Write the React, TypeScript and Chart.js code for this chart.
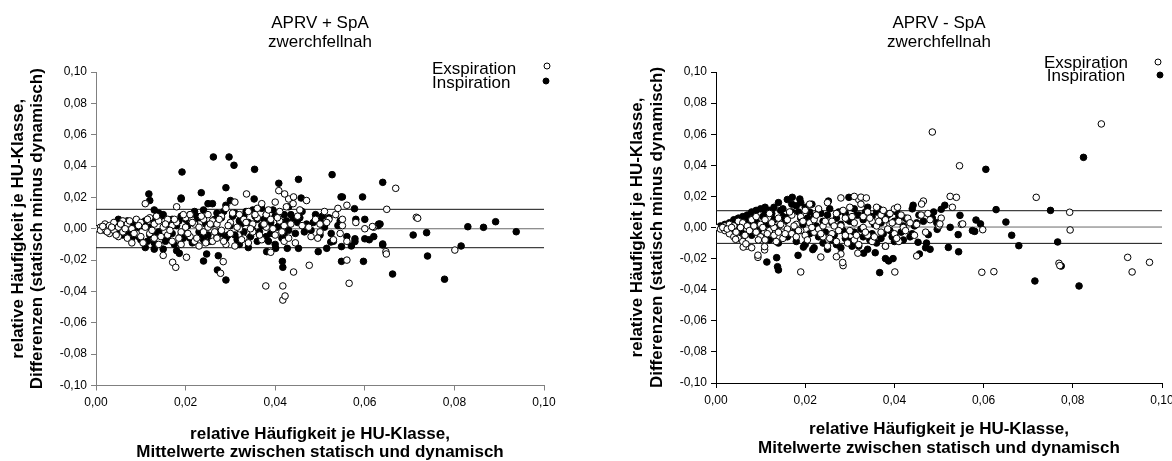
import React, { useEffect, useRef } from 'react';
import { Chart, registerables } from 'chart.js';

Chart.register(...registerables);

const FONT = '"Liberation Sans", Arial, Helvetica, sans-serif';

const xTickValues = [0, 0.02, 0.04, 0.06, 0.08, 0.1];
const xTickLabels = ['0,00', '0,02', '0,04', '0,06', '0,08', '0,10'];
const yTickValues = [-0.1, -0.08, -0.06, -0.04, -0.02, 0, 0.02, 0.04, 0.06, 0.08, 0.1];
const yTickLabels = ['-0,10', '-0,08', '-0,06', '-0,04', '-0,02', '0,00', '0,02', '0,04', '0,06', '0,08', '0,10'];

const leftTitle = ['APRV + SpA', 'zwerchfellnah'];
const rightTitle = ['APRV - SpA', 'zwerchfellnah'];
const yAxisTitle = ['relative Häufigkeit je HU-Klasse,', 'Differenzen (statisch minus dynamisch)'];
const leftXAxisTitle = ['relative Häufigkeit je HU-Klasse,', 'Mittelwerte zwischen statisch und dynamisch'];
const rightXAxisTitle = ['relative Häufigkeit je HU-Klasse,', 'Mitelwerte zwischen statisch und dynamisch'];
const seriesNames = ['Exspiration', 'Inspiration'];

// mean difference and limits of agreement
const leftLimits = [0.0124, 0, -0.0121];
const rightLimits = [0.0108, 0.0003, -0.0102];

// [mean, difference]
const leftExspiration: number[][] = [
  [0.000, 0.000], [0.001, 0.001], [0.001, -0.001], [0.002, 0.000], [0.002, 0.003], [0.003, -0.003], [0.003, 0.002],
  [0.004, -0.001], [0.004, 0.004], [0.005, -0.005], [0.005, 0.001], [0.006, 0.005], [0.006, -0.002], [0.007, -0.006],
  [0.007, 0.003], [0.008, 0.000], [0.008, -0.009], [0.009, 0.006], [0.009, -0.003], [0.010, 0.004], [0.010, -0.005],
  [0.011, 0.016], [0.011, 0.001], [0.012, -0.003], [0.012, 0.007], [0.013, -0.006], [0.013, 0.003], [0.014, 0.005],
  [0.014, -0.010], [0.015, -0.017], [0.015, 0.001], [0.016, 0.006], [0.016, -0.004], [0.017, 0.002], [0.017, -0.008],
  [0.018, 0.014], [0.018, 0.004], [0.019, -0.002], [0.019, -0.010], [0.020, 0.007], [0.020, 0.001], [0.021, -0.005],
  [0.021, 0.009], [0.022, 0.003], [0.022, -0.008], [0.023, 0.001], [0.023, -0.011], [0.024, 0.006], [0.024, -0.002],
  [0.025, 0.009], [0.025, 0.001], [0.026, -0.008], [0.026, 0.005], [0.027, 0.003], [0.027, -0.006], [0.028, 0.008],
  [0.028, -0.001], [0.029, 0.013], [0.029, -0.010], [0.030, 0.004], [0.030, -0.003], [0.031, 0.017], [0.031, -0.011],
  [0.032, 0.009], [0.032, 0.000], [0.033, -0.006], [0.033, 0.006], [0.034, 0.011], [0.034, -0.009], [0.035, 0.003],
  [0.035, -0.002], [0.036, 0.013], [0.036, 0.007], [0.037, 0.016], [0.037, -0.007], [0.038, 0.001], [0.038, 0.009],
  [0.039, 0.006], [0.039, -0.015], [0.040, 0.017], [0.040, -0.004], [0.041, 0.005], [0.041, 0.011], [0.042, 0.002],
  [0.042, -0.008], [0.043, 0.019], [0.043, -0.006], [0.044, 0.016], [0.045, 0.008], [0.046, 0.002], [0.047, 0.018],
  [0.048, -0.005], [0.049, 0.006], [0.050, 0.003], [0.050, -0.002], [0.051, 0.011], [0.052, 0.006], [0.053, -0.007],
  [0.054, 0.013], [0.055, 0.002], [0.055, 0.006], [0.056, 0.015], [0.056, -0.008], [0.058, 0.004], [0.060, 0.000],
  [0.062, 0.001],
  [0.0015, 0.0015], [0.0025, -0.002], [0.0035, 0.001], [0.0045, -0.004], [0.0055, 0.003], [0.0065, 0.000],
  [0.0075, 0.005], [0.0085, -0.003], [0.0095, 0.002], [0.0105, -0.009], [0.0115, 0.006], [0.0125, -0.001],
  [0.0135, 0.008], [0.0145, -0.005], [0.0155, 0.003], [0.0165, -0.001], [0.0175, 0.006], [0.0185, -0.006],
  [0.0195, 0.009], [0.0205, -0.003], [0.0215, 0.004], [0.0225, -0.006], [0.0235, 0.008], [0.0245, -0.009],
  [0.0255, 0.003], [0.0265, -0.002], [0.0275, 0.006], [0.0285, -0.008], [0.0295, 0.002], [0.0305, 0.010],
  [0.0315, 0.001], [0.0325, -0.007], [0.0335, 0.004], [0.0345, 0.000], [0.0355, 0.009], [0.0365, -0.004],
  [0.0375, 0.003], [0.0385, 0.012], [0.0395, 0.000], [0.0405, 0.007], [0.0415, -0.002], [0.0425, 0.014],
  [0.0435, 0.003], [0.0445, -0.009], [0.0455, 0.012], [0.0475, 0.001], [0.0495, -0.006], [0.0515, 0.004],
  [0.0535, 0.009], [0.0545, -0.003],
  [0.0408, 0.0243], [0.0421, 0.0222], [0.0669, 0.0258], [0.0336, 0.0222], [0.0441, 0.0203], [0.0171, -0.0214],
  [0.0178, -0.0246], [0.0202, -0.0182], [0.0278, -0.0284], [0.0284, -0.021], [0.0379, -0.0365], [0.0417, -0.0365],
  [0.0417, -0.0455], [0.0422, -0.0429], [0.0441, -0.0276], [0.0476, -0.0233], [0.0565, -0.0348], [0.056, -0.020],
  [0.0647, -0.0146], [0.0648, -0.0161], [0.0649, 0.0124], [0.0617, 0.0014], [0.0715, 0.0073], [0.0718, 0.0067],
  [0.0801, -0.0136],
];

const leftInspiration: number[][] = [
  [0.001, 0.0005], [0.002, -0.001], [0.002, 0.002], [0.003, 0.001], [0.003, -0.002], [0.004, 0.003], [0.004, -0.001],
  [0.005, 0.006], [0.005, 0.002], [0.005, -0.003], [0.006, 0.004], [0.006, -0.004], [0.007, 0.001], [0.007, 0.005],
  [0.007, -0.002], [0.008, 0.003], [0.008, -0.006], [0.009, 0.000], [0.009, 0.004], [0.010, -0.007], [0.010, 0.002],
  [0.011, -0.012], [0.011, 0.005], [0.012, 0.018], [0.012, -0.004], [0.012, 0.001], [0.013, -0.013], [0.013, 0.012],
  [0.013, -0.009], [0.014, 0.010], [0.014, -0.002], [0.015, 0.009], [0.015, -0.013], [0.016, 0.004], [0.016, -0.006],
  [0.017, 0.006], [0.017, -0.003], [0.018, -0.014], [0.018, 0.002], [0.019, 0.019], [0.019, -0.004], [0.019, 0.008],
  [0.020, -0.003], [0.020, 0.006], [0.021, 0.009], [0.021, -0.006], [0.022, 0.004], [0.022, 0.011], [0.023, -0.002],
  [0.023, 0.007], [0.024, -0.007], [0.024, 0.012], [0.025, 0.016], [0.025, -0.004], [0.026, 0.016], [0.026, 0.003],
  [0.027, -0.005], [0.027, 0.010], [0.028, 0.007], [0.028, -0.003], [0.029, 0.015], [0.029, -0.006], [0.030, 0.018],
  [0.030, 0.002], [0.031, 0.010], [0.031, -0.004], [0.032, 0.005], [0.032, -0.010], [0.033, 0.008], [0.033, -0.002],
  [0.034, -0.012], [0.034, 0.004], [0.035, 0.012], [0.035, -0.001], [0.036, 0.006], [0.036, -0.008], [0.037, 0.013],
  [0.037, 0.002], [0.038, -0.005], [0.038, 0.009], [0.039, 0.004], [0.039, -0.003], [0.040, 0.008], [0.040, -0.010],
  [0.041, 0.003], [0.042, -0.004], [0.042, 0.009], [0.043, 0.014], [0.043, -0.001], [0.044, 0.006], [0.045, 0.004],
  [0.046, 0.011], [0.047, 0.003], [0.048, -0.001], [0.049, 0.009], [0.050, 0.005], [0.050, -0.004], [0.051, 0.001],
  [0.052, 0.007], [0.053, -0.008], [0.054, 0.002], [0.056, -0.005], [0.057, -0.011], [0.058, 0.006], [0.061, -0.007],
  [0.062, -0.005], [0.063, 0.002],
  [0.0015, -0.0005], [0.0025, 0.0015], [0.0035, -0.001], [0.0045, 0.002], [0.0055, -0.002], [0.0065, 0.003],
  [0.0075, -0.004], [0.0085, 0.002], [0.0095, -0.005], [0.0105, 0.004], [0.0115, -0.008], [0.0125, 0.006],
  [0.0135, -0.003], [0.0145, 0.008], [0.0155, -0.008], [0.0165, 0.002], [0.0175, -0.010], [0.0185, 0.005],
  [0.0195, -0.006], [0.0205, 0.002], [0.0215, -0.009], [0.0225, 0.008], [0.0235, -0.004], [0.0245, 0.003],
  [0.0255, -0.008], [0.0265, 0.006], [0.0275, -0.002], [0.0285, 0.011], [0.0295, -0.004], [0.0305, 0.008],
  [0.0315, -0.007], [0.0325, 0.003], [0.0335, 0.011], [0.0345, -0.005], [0.0355, 0.008], [0.0365, -0.002],
  [0.0375, 0.006], [0.0385, -0.008], [0.0395, 0.012], [0.0405, 0.001], [0.0415, -0.006], [0.0425, 0.005],
  [0.0435, 0.009], [0.0445, -0.003], [0.0455, 0.007], [0.0465, -0.002], [0.0485, 0.004], [0.0505, 0.008],
  [0.0525, -0.003], [0.0545, 0.005],
  [0.0118, 0.0222], [0.0192, 0.0362], [0.0235, 0.023], [0.0262, 0.0458], [0.0297, 0.0458], [0.0308, 0.0405],
  [0.029, 0.0262], [0.0354, 0.0379], [0.0408, 0.029], [0.0452, 0.0315], [0.0527, 0.0345], [0.064, 0.0296],
  [0.0547, 0.0203], [0.055, 0.0203], [0.0595, 0.0203], [0.0458, 0.0196], [0.019, 0.0196], [0.0353, 0.019],
  [0.0186, -0.0157], [0.024, -0.0206], [0.0247, -0.0161], [0.0271, -0.0263], [0.029, -0.0327], [0.0273, -0.0172],
  [0.0416, -0.0208], [0.0417, -0.0246], [0.0381, -0.0146], [0.0401, -0.0125], [0.0427, -0.0125], [0.0452, -0.0125],
  [0.0496, -0.0146], [0.0515, -0.0125], [0.0524, -0.0085], [0.0548, -0.0208], [0.0597, -0.0208], [0.0548, -0.0114],
  [0.0578, -0.0064], [0.0578, -0.0082], [0.060, -0.0064], [0.0662, -0.0289], [0.064, -0.0097], [0.0577, 0.0128],
  [0.060, 0.006], [0.0631, 0.003], [0.0634, 0.003], [0.0708, -0.004], [0.0738, -0.0025], [0.083, 0.0013],
  [0.0865, 0.0009], [0.0892, 0.0045], [0.0938, -0.0019], [0.064, -0.0104], [0.074, -0.0174], [0.0815, -0.011],
  [0.0778, -0.0322],
];

const rightExspiration: number[][] = [
  [0.000, 0.000], [0.001, -0.001], [0.002, 0.001], [0.002, -0.002], [0.003, 0.002], [0.003, -0.004], [0.004, 0.001],
  [0.004, -0.006], [0.005, 0.004], [0.005, -0.007], [0.006, 0.003], [0.006, -0.009], [0.007, -0.012], [0.007, 0.001],
  [0.008, -0.013], [0.008, 0.005], [0.009, -0.003], [0.009, 0.007], [0.010, -0.006], [0.010, 0.002], [0.011, 0.005],
  [0.011, -0.008], [0.012, -0.002], [0.012, 0.009], [0.013, 0.000], [0.013, -0.005], [0.014, 0.006], [0.014, -0.003],
  [0.015, 0.001], [0.015, -0.007], [0.016, 0.005], [0.016, -0.001], [0.017, -0.004], [0.017, 0.008], [0.018, 0.002],
  [0.018, -0.006], [0.019, 0.007], [0.019, -0.002], [0.020, 0.011], [0.020, -0.005], [0.021, 0.003], [0.021, 0.015],
  [0.022, -0.003], [0.022, 0.005], [0.023, 0.012], [0.023, -0.001], [0.024, -0.006], [0.024, 0.001], [0.025, 0.016],
  [0.025, -0.012], [0.026, 0.004], [0.026, -0.004], [0.027, 0.009], [0.027, -0.009], [0.028, 0.001], [0.028, -0.017],
  [0.029, 0.006], [0.029, -0.005], [0.030, 0.013], [0.030, -0.002], [0.031, 0.003], [0.031, -0.008], [0.032, 0.018],
  [0.032, -0.011], [0.033, 0.007], [0.033, 0.000], [0.034, -0.005], [0.034, 0.010], [0.035, 0.004], [0.035, -0.009],
  [0.036, 0.001], [0.036, 0.013], [0.037, -0.003], [0.037, 0.008], [0.038, 0.005], [0.038, -0.012], [0.039, 0.002],
  [0.039, 0.009], [0.040, -0.004], [0.040, 0.012], [0.041, -0.009], [0.041, 0.004], [0.042, 0.000], [0.043, 0.006],
  [0.045, 0.002], [0.046, 0.008], [0.047, -0.003], [0.048, 0.005], [0.050, 0.001], [0.053, 0.013], [0.055, 0.002],
  [0.0015, 0.000], [0.0025, -0.001], [0.0035, 0.000], [0.0045, -0.003], [0.0055, 0.000], [0.0065, -0.005],
  [0.0075, -0.002], [0.0085, 0.001], [0.0095, -0.008], [0.0105, 0.000], [0.0115, -0.004], [0.0125, 0.003],
  [0.0135, -0.009], [0.0145, 0.002], [0.0155, -0.004], [0.0165, 0.010], [0.0175, 0.001], [0.0185, -0.002],
  [0.0195, 0.004], [0.0205, -0.008], [0.0215, 0.000], [0.0225, 0.008], [0.0235, -0.004], [0.0245, 0.004],
  [0.0255, -0.007], [0.0265, 0.001], [0.0275, -0.002], [0.0285, 0.011], [0.0295, -0.010], [0.0305, 0.007],
  [0.0315, -0.005], [0.0325, 0.015], [0.0335, -0.003], [0.0345, 0.006], [0.0355, -0.006], [0.0365, 0.004],
  [0.0375, 0.011], [0.0385, -0.001], [0.0395, 0.003], [0.0405, -0.007], [0.0415, 0.008], [0.0425, -0.002],
  [0.0435, 0.003], [0.0445, -0.005], [0.0475, 0.009], [0.0505, 0.006],
  [0.0485, 0.0614], [0.0546, 0.0397], [0.0864, 0.0666], [0.0718, 0.0194], [0.0525, 0.020], [0.0539, 0.0194],
  [0.0465, 0.017], [0.028, 0.019], [0.031, 0.020], [0.0325, 0.0195], [0.0337, 0.019], [0.0923, -0.0192],
  [0.0933, -0.0286], [0.0972, -0.0224], [0.0769, -0.023], [0.0771, -0.0245], [0.0793, 0.0098], [0.0794, -0.0016],
  [0.0596, -0.0288], [0.0623, -0.0284], [0.0598, -0.0014], [0.0553, 0.0023], [0.0502, 0.0023], [0.045, -0.0183],
  [0.0461, 0.0151], [0.0407, 0.013], [0.0401, -0.0286], [0.0318, -0.0165], [0.0285, -0.0245], [0.0284, -0.0225],
  [0.027, -0.0188], [0.0235, -0.019], [0.019, -0.0286], [0.0094, -0.0192], [0.0094, -0.0178], [0.0109, -0.0144],
  [0.0109, -0.0123], [0.0061, -0.0126], [0.0067, -0.0105], [0.0044, -0.0076],
];

const rightInspiration: number[][] = [
  [0.001, 0.001], [0.002, 0.002], [0.003, -0.002], [0.003, 0.003], [0.004, 0.005], [0.004, -0.003], [0.005, 0.006],
  [0.005, 0.002], [0.006, 0.007], [0.006, -0.004], [0.007, 0.003], [0.007, 0.008], [0.008, -0.005], [0.008, 0.010],
  [0.009, 0.011], [0.009, 0.004], [0.010, 0.012], [0.010, -0.006], [0.011, 0.009], [0.011, 0.013], [0.012, 0.011],
  [0.012, -0.008], [0.013, 0.013], [0.013, 0.005], [0.014, 0.016], [0.014, -0.010], [0.015, 0.012], [0.015, 0.007],
  [0.016, 0.018], [0.016, -0.006], [0.017, 0.015], [0.017, 0.010], [0.018, 0.014], [0.018, -0.009], [0.019, 0.016],
  [0.019, 0.006], [0.020, 0.013], [0.020, -0.011], [0.021, 0.010], [0.021, -0.004], [0.022, 0.007], [0.022, -0.013],
  [0.023, 0.011], [0.023, -0.006], [0.024, 0.004], [0.024, -0.010], [0.025, 0.008], [0.025, -0.014], [0.026, 0.003],
  [0.026, -0.008], [0.027, -0.011], [0.027, 0.006], [0.028, -0.013], [0.028, 0.002], [0.029, 0.009], [0.029, -0.007],
  [0.030, 0.004], [0.030, -0.009], [0.031, 0.012], [0.031, -0.003], [0.032, 0.008], [0.032, -0.012], [0.033, 0.005],
  [0.033, -0.006], [0.034, 0.013], [0.034, -0.014], [0.035, 0.007], [0.035, -0.004], [0.036, 0.010], [0.036, -0.010],
  [0.037, 0.003], [0.037, -0.007], [0.038, 0.006], [0.038, -0.012], [0.039, 0.009], [0.039, -0.002], [0.040, 0.004],
  [0.040, -0.009], [0.041, 0.007], [0.042, 0.001], [0.042, -0.008], [0.043, 0.005], [0.044, 0.012], [0.044, -0.004],
  [0.045, 0.003],
  [0.0045, 0.001], [0.0055, -0.001], [0.0065, 0.005], [0.0075, 0.002], [0.0085, 0.006], [0.0095, -0.002],
  [0.0105, 0.007], [0.0115, 0.002], [0.0125, 0.009], [0.0135, 0.000], [0.0145, 0.011], [0.0155, 0.004],
  [0.0165, 0.008], [0.0175, -0.003], [0.0185, 0.010], [0.0195, 0.002], [0.0205, 0.006], [0.0215, 0.015],
  [0.0225, 0.001], [0.0235, 0.009], [0.0245, -0.003], [0.0255, 0.012], [0.0265, -0.005], [0.0275, 0.010],
  [0.0285, -0.002], [0.0295, 0.005], [0.0305, -0.012], [0.0315, 0.008], [0.0325, -0.001], [0.0335, 0.010],
  [0.0345, -0.008], [0.0355, 0.002], [0.0365, 0.012], [0.0375, -0.004], [0.0385, 0.008], [0.0395, -0.006],
  [0.0405, 0.010], [0.0415, -0.003], [0.0425, 0.006], [0.0435, -0.006], [0.0445, 0.001], [0.0455, 0.008],
  [0.0465, 0.004], [0.0485, 0.006], [0.0495, 0.003],
  [0.0171, 0.0194], [0.0188, 0.0183], [0.0298, 0.0194], [0.0252, 0.017], [0.0605, 0.0374], [0.0824, 0.0451],
  [0.0814, -0.0376], [0.0715, -0.0344], [0.0774, -0.0248], [0.0766, -0.0093], [0.0750, 0.011], [0.0679, -0.0117],
  [0.0663, -0.005], [0.0650, 0.0035], [0.0628, 0.0115], [0.0583, 0.0048], [0.0593, 0.0023], [0.0547, 0.0078],
  [0.0543, -0.0046], [0.0575, -0.002], [0.058, -0.0025], [0.0544, -0.0156], [0.0521, -0.0128], [0.0525, 0.0001],
  [0.0513, 0.0143], [0.0505, 0.0117], [0.0496, -0.0012], [0.0488, 0.010], [0.0476, -0.0046], [0.047, -0.013],
  [0.048, -0.014], [0.0472, -0.010], [0.0456, -0.017], [0.0453, -0.0095], [0.0442, 0.0143], [0.0367, -0.029],
  [0.038, -0.020], [0.0387, -0.0215], [0.0397, -0.020], [0.0357, -0.0162], [0.0331, -0.0165], [0.0217, -0.0142],
  [0.0196, -0.0126], [0.0184, -0.0179], [0.0136, -0.0194], [0.0138, -0.0252], [0.014, -0.0273], [0.0114, -0.0222],
];

type Panel = {
  title: string[];
  xTitle: string[];
  exsp: number[][];
  insp: number[][];
  limits: number[];
  axisColor: string;
  padLeft: number;
  padRight: number;
  xHeight: number;
  xTickPad: number;
  xTitleLH: string;
  xTitlePadBottom: number;
  yTitleLH: string;
  yTitlePadTop: number;
  legend: { align: 'left' | 'center'; x: number; y: number[]; mx: number[]; my: number[] };
};

function legendPlugin(p: Panel) {
  return {
    id: 'baLegend',
    afterDraw(chart: any) {
      const ctx = chart.ctx as CanvasRenderingContext2D;
      ctx.save();
      ctx.font = `17px ${FONT}`;
      ctx.fillStyle = '#000';
      ctx.textBaseline = 'alphabetic';
      ctx.textAlign = p.legend.align;
      seriesNames.forEach((name, i) => {
        ctx.fillText(name, p.legend.x, p.legend.y[i]);
      });
      seriesNames.forEach((_, i) => {
        ctx.beginPath();
        ctx.arc(p.legend.mx[i], p.legend.my[i], 3, 0, Math.PI * 2);
        ctx.fillStyle = i === 0 ? '#fff' : '#000';
        ctx.fill();
        ctx.lineWidth = 1;
        ctx.strokeStyle = '#000';
        ctx.stroke();
      });
      ctx.restore();
    },
  };
}

function buildConfig(p: Panel): any {
  const toPts = (a: number[][]) => a.map(([x, y]) => ({ x, y }));
  return {
    type: 'scatter',
    data: {
      datasets: [
        ...p.limits.map((v, i) => ({
          type: 'line',
          label: 'limit' + i,
          data: [{ x: 0, y: v }, { x: 0.1, y: v }],
          borderColor: i === 1 ? '#6a6a6a' : '#111',
          borderWidth: 1,
          pointRadius: 0,
          fill: false,
          order: 3,
        })),
        {
          label: seriesNames[0],
          data: toPts(p.exsp),
          pointRadius: 3.3,
          borderWidth: 1,
          pointBackgroundColor: '#fff',
          pointBorderColor: '#000',
          backgroundColor: '#fff',
          borderColor: '#000',
          order: 1,
        },
        {
          label: seriesNames[1],
          data: toPts(p.insp),
          pointRadius: 3.3,
          borderWidth: 1,
          pointBackgroundColor: '#000',
          pointBorderColor: '#000',
          backgroundColor: '#000',
          borderColor: '#000',
          order: 2,
        },
      ],
    },
    options: {
      responsive: false,
      animation: false,
      events: [],
      layout: { padding: { left: p.padLeft, right: p.padRight, top: 0, bottom: 0 } },
      plugins: {
        legend: { display: false },
        tooltip: { enabled: false },
        title: {
          display: true,
          text: p.title,
          fullSize: false,
          color: '#000',
          font: { family: FONT, size: 17, weight: 'normal', lineHeight: '19px' },
          padding: { top: 13.5, bottom: 20.5 },
        },
      },
      scales: {
        x: {
          type: 'linear',
          position: 'bottom',
          min: 0,
          max: 0.1,
          afterBuildTicks: (s: any) => {
            s.ticks = xTickValues.map((value) => ({ value }));
          },
          afterFit: (s: any) => {
            s.height = p.xHeight;
          },
          ticks: {
            callback: (_v: any, i: number) => xTickLabels[i],
            color: '#000',
            font: { family: FONT, size: 12 },
            padding: p.xTickPad,
            maxRotation: 0,
            autoSkip: false,
          },
          grid: { drawOnChartArea: false, tickLength: 5, color: p.axisColor, lineWidth: 1 },
          border: { color: p.axisColor, width: 1 },
          title: {
            display: true,
            text: p.xTitle,
            color: '#000',
            font: { family: FONT, size: 17, weight: 'bold', lineHeight: p.xTitleLH },
            padding: { top: 0, bottom: p.xTitlePadBottom },
          },
        },
        y: {
          type: 'linear',
          position: 'left',
          min: -0.1,
          max: 0.1,
          afterBuildTicks: (s: any) => {
            s.ticks = yTickValues.map((value) => ({ value }));
          },
          afterFit: (s: any) => {
            s.width = 96;
          },
          ticks: {
            callback: (_v: any, i: number) => yTickLabels[i],
            color: '#000',
            font: { family: FONT, size: 12 },
            padding: 4,
            autoSkip: false,
          },
          grid: { drawOnChartArea: false, tickLength: 5, color: p.axisColor, lineWidth: 1 },
          border: { color: p.axisColor, width: 1 },
          title: {
            display: true,
            text: yAxisTitle,
            color: '#000',
            font: { family: FONT, size: 17, weight: 'bold', lineHeight: p.yTitleLH },
            padding: { top: p.yTitlePadTop, bottom: 0 },
          },
        },
      },
    },
    plugins: [legendPlugin(p)],
  };
}

const leftPanel: Panel = {
  title: leftTitle,
  xTitle: leftXAxisTitle,
  exsp: leftExspiration,
  insp: leftInspiration,
  limits: leftLimits,
  axisColor: '#808080',
  padLeft: 0,
  padRight: 42,
  xHeight: 75.5,
  xTickPad: 5,
  xTitleLH: '17.5px',
  xTitlePadBottom: 0,
  yTitleLH: '19px',
  yTitlePadTop: 8.5,
  legend: { align: 'left', x: 432, y: [73.5, 87.5], mx: [547, 546], my: [66, 81] },
};

const rightPanel: Panel = {
  title: rightTitle,
  xTitle: rightXAxisTitle,
  exsp: rightExspiration,
  insp: rightInspiration,
  limits: rightLimits,
  axisColor: '#000',
  padLeft: 34,
  padRight: 28,
  xHeight: 78,
  xTickPad: 5.5,
  xTitleLH: '19px',
  xTitlePadBottom: 3.5,
  yTitleLH: '20px',
  yTitlePadTop: 7,
  legend: { align: 'center', x: 500, y: [67.5, 80.7], mx: [572, 574], my: [62, 75] },
};

function BAChart({ panel, left, width }: { panel: Panel; left: number; width: number }) {
  const ref = useRef<HTMLCanvasElement>(null);
  useEffect(() => {
    const chart = new Chart(ref.current as HTMLCanvasElement, buildConfig(panel));
    return () => chart.destroy();
  }, [panel]);
  return (
    <canvas
      ref={ref}
      width={width}
      height={461}
      style={{ position: 'absolute', left, top: 0, width, height: 461 }}
    />
  );
}

export default function App() {
  return (
    <div
      style={{
        position: 'fixed',
        left: 0,
        top: 0,
        width: 1172,
        height: 461,
        overflow: 'hidden',
        background: '#fff',
      }}
    >
      <BAChart panel={leftPanel} left={0} width={586} />
      <BAChart panel={rightPanel} left={586} width={604} />
    </div>
  );
}
